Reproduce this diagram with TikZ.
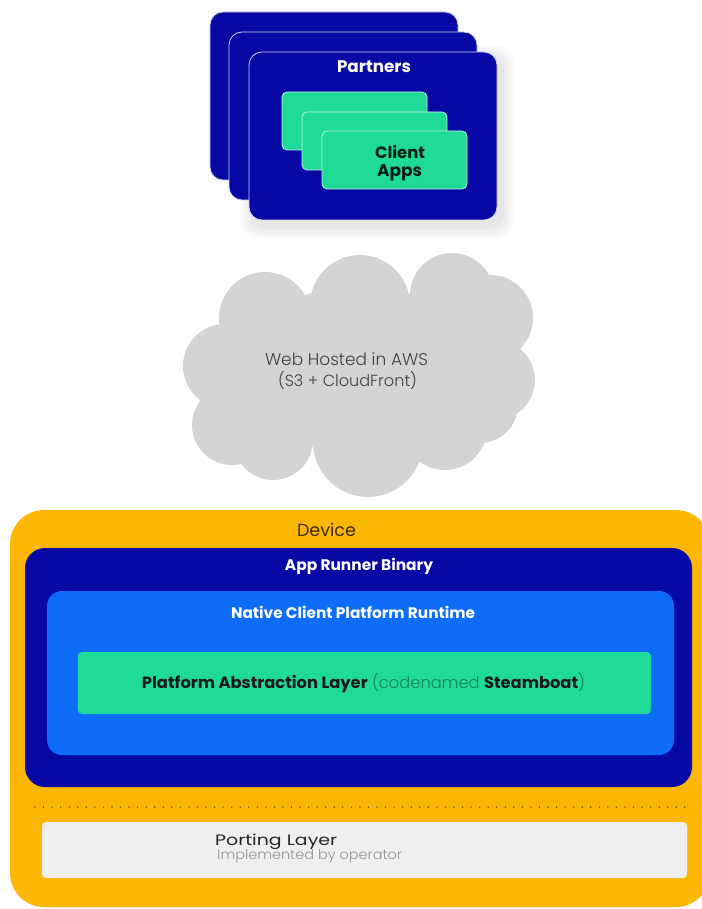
\documentclass[tikz,border=0pt]{standalone}
\usepackage{fontspec}
\usepackage{graphicx}
\setmainfont{Poppins}
\newfontfamily\poplight{Poppins}[UprightFont=* Light]
\newcommand{\fitw}[2]{\resizebox{#1pt}{!}{#2}}
\definecolor{navy}{HTML}{0808A4}
\definecolor{mint}{HTML}{20DB97}
\definecolor{brightblue}{HTML}{0D6CF8}
\definecolor{gold}{HTML}{FBB606}
\definecolor{cloudgray}{HTML}{D4D4D4}
\definecolor{porting}{HTML}{EFEFEF}
\begin{document}
\begin{tikzpicture}[x=1pt,y=-1pt]
\tikzset{
  box/.style={anchor=north west, inner sep=0pt, outer sep=0pt},
  partnercard/.style={box, fill=navy, draw=white!80!navy, line width=0.8pt, rounded corners=13pt,
     minimum width=248pt, minimum height=168pt},
  appcard/.style={box, fill=mint, draw=white!70!mint, line width=0.8pt, rounded corners=5pt,
     minimum width=145pt, minimum height=58pt},
  lbl/.style={inner sep=0pt, text=white},
  cloudpart/.style={fill=cloudgray, draw=none},
}
\useasboundingbox (0,0) rectangle (701,909);
\fill[white] (0,0) rectangle (701,909);

% soft shadow behind partners stack
\foreach \g in {12,9,6,3}
  \fill[black, opacity=0.025, rounded corners=16pt] (249-\g+4,52-\g+6) rectangle (497+\g+4,220+\g+6);

% Partners stack
\node[partnercard] (p1) at (210,12) {};
\node[partnercard] (p2) at (229,32) {};
\node[partnercard] (p3) at (249,52) {};
\node[lbl] (partners) at (374,67) {\fitw{74}{\bfseries Partners}};
\node[appcard] (a1) at (282,92) {};
\node[appcard] (a2) at (302,112) {};
\node[appcard] (a3) at (322,131) {};
\node[inner sep=0pt, text=black!85!mint] (client) at (400,152) {\fitw{50}{\bfseries Client}};
\node[inner sep=0pt, text=black!85!mint, anchor=base] (apps) at (399.5,177) {\fitw{45}{\bfseries Apps}};

% Cloud
\begin{scope}
\foreach \cx/\cy/\r in {265/318/46, 360/305/50, 452/295/42, 490/318/43, 495/380/40, 480/405/38,
   445/428/42, 368/442/55, 273/440/40, 232/425/40, 225/366/42}
  \fill[cloudpart] (\cx,\cy) circle[radius=\r];
\fill[cloudpart] (360,370) ellipse[x radius=135, y radius=82];
\end{scope}
\node[inner sep=0pt, text=black!75] (cloud1) at (346.5,359) {\fitw{163}{\poplight Web Hosted in AWS}};
\node[inner sep=0pt, text=black!75] (cloud2) at (347.5,380) {\fitw{139}{\poplight (S3 + CloudFront)}};

% Device
\node[box, fill=gold, rounded corners=34pt, minimum width=700pt, minimum height=397pt] (device) at (10,510) {};
\node[inner sep=0pt, text=black!75!gold] (devlbl) at (326.5,530) {\fitw{59}{Device}};
\node[box, fill=navy, rounded corners=20pt, minimum width=667pt, minimum height=239pt] (runner) at (25,548) {};
\node[lbl] (runnerlbl) at (359,566) {\fitw{148}{\bfseries App Runner Binary}};
\node[box, fill=brightblue, rounded corners=15pt, minimum width=627pt, minimum height=164pt] (native) at (47,591) {};
\node[lbl] (nativelbl) at (353,612) {\fitw{244}{\bfseries Native Client Platform Runtime}};
\node[box, fill=mint, rounded corners=4pt, minimum width=573pt, minimum height=62pt] (pal) at (78,652) {};
\node[inner sep=0pt, text=black!90] (pallbl) at (363.5,683)
  {\fitw{443}{\textbf{Platform Abstraction Layer} {\poplight\color{black!40!mint}(codenamed} \textbf{Steamboat}{\poplight\color{black!40!mint})}}};

% dotted separator
\coordinate (dotl) at (35,807);
\coordinate (dotr) at (686,807);
\draw[line width=1.7pt, line cap=round, dash pattern=on 0pt off 8.55pt, color=black!55!gold] (dotl) -- (dotr);

% Porting layer
\node[box, fill=porting, rounded corners=4pt, minimum width=645pt, minimum height=56pt] (port) at (42,822) {};
\node[anchor=base west, inner sep=0pt, text=black!85] (portlbl) at (215,845) {\resizebox{122pt}{11.5pt}{Porting Layer}};
\node[anchor=base west, inner sep=0pt, text=black!42] (portsub) at (217,859) {\resizebox{185pt}{10pt}{\poplight Implemented by operator}};
\end{tikzpicture}
\end{document}
